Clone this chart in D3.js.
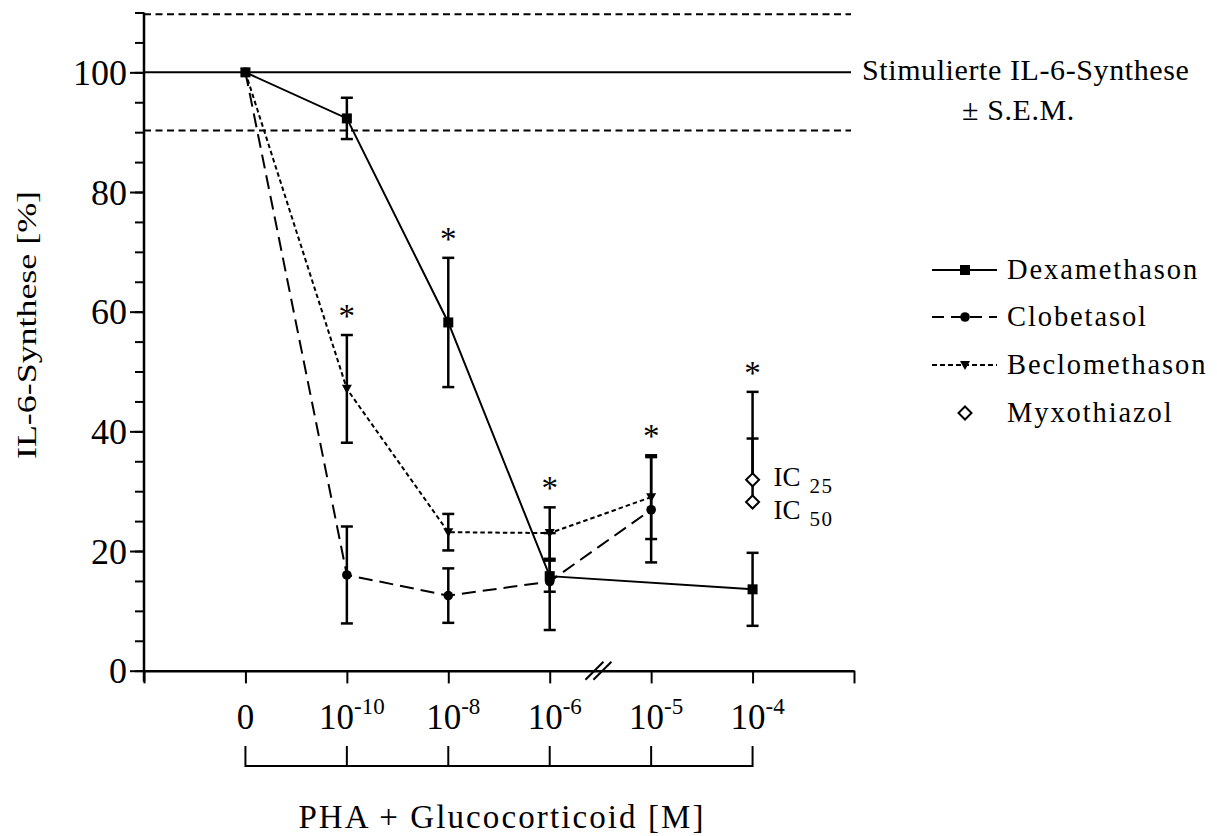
<!DOCTYPE html>
<html>
<head>
<meta charset="utf-8">
<script src="https://cdn.jsdelivr.net/npm/d3@7"></script>
<style>
  html, body { margin: 0; padding: 0; background: #fff; }
  svg { display: block; }
  text { font-family: "Liberation Serif", "Times New Roman", serif; fill: #000; }
</style>
</head>
<body>
<svg id="chart" width="1217" height="836"></svg>
<script>
// ---------- data ----------
const tickBase = ["0", "10", "10", "10", "10", "10"];
const tickExp  = ["", "-10", "-8", "-6", "-5", "-4"];

const dexaIdx  = [0, 1, 2, 3, 5];
const dexaVal  = [100, 92.3, 58.2, 15.8, 13.6];
const dexaErr  = [0, 3.45, 10.8, 2.6, 6.1];

const clobeIdx = [0, 1, 2, 3, 4];
const clobeVal = [100, 16.0, 12.55, 14.9, 26.9];
const clobeErr = [0, 8.1, 4.55, 8.1, 8.8];

const becloIdx = [0, 1, 2, 3, 4];
const becloVal = [100, 47.1, 23.15, 23.0, 29.0];
const becloErr = [0, 9.0, 3.05, 4.3, 7.0];

const myxoIdx    = [5, 5];
const myxoLabel  = ["25", "50"];
const myxoVal    = [31.9, 28.2];
const myxoErrUp  = [6.9, 18.4];

const refMean = 100;
const refSem = 9.7;

// significance stars: concentration index and the series they refer to
const starIdx    = [1, 2, 3, 4, 5];
const starSeries = ["Beclomethason", "Dexamethason", "Beclomethason", "Beclomethason", "Myxothiazol"];

const yMajor = [0, 20, 40, 60, 80, 100];
const yMinor = d3.range(0, 111, 5);

const seriesNames = ["Dexamethason", "Clobetasol", "Beclomethason", "Myxothiazol"];

// ---------- layout ----------
const svg = d3.select("#chart");
const x = d3.scaleLinear().domain([-1, 6]).range([144, 854]);
const y = d3.scaleLinear().domain([0, 110]).range([670.7, 12.5]);
const X0 = x(-1), Y0 = y(0);

// reference band lines
const refLines = [
  {v: refMean + refSem, dash: "7,4.5"},
  {v: refMean, dash: null},
  {v: refMean - refSem, dash: "7,4.5"}
];
svg.append("g").selectAll("line").data(refLines).join("line")
  .attr("x1", X0).attr("x2", 851)
  .attr("y1", d => y(d.v)).attr("y2", d => y(d.v))
  .attr("stroke", "#000").attr("stroke-width", 2)
  .attr("stroke-dasharray", d => d.dash);

svg.append("text").attr("x", 862).attr("y", y(refMean) + 8)
  .attr("font-size", 30).attr("letter-spacing", 0.6)
  .text("Stimulierte IL-6-Synthese");
svg.append("text").attr("x", 962).attr("y", y(refMean) + 48)
  .attr("font-size", 30).attr("letter-spacing", 0.6)
  .text("\u00B1 S.E.M.");

// ---------- axes ----------
const yAxisMinor = d3.axisLeft(y).tickValues(yMinor).tickSize(9).tickFormat("");
const yAxisMajor = d3.axisLeft(y).tickValues(yMajor).tickSize(14).tickPadding(3)
  .tickFormat(d3.format("d"));
const gMinor = svg.append("g").attr("transform", `translate(${X0},0)`).call(yAxisMinor);
const gMajor = svg.append("g").attr("transform", `translate(${X0},0)`).call(yAxisMajor);
[gMinor, gMajor].forEach(g => {
  g.select(".domain").remove();
  g.selectAll(".tick line").attr("stroke", "#000").attr("stroke-width", 2);
});
gMajor.selectAll(".tick text")
  .attr("font-size", 36).attr("fill", "#000").attr("dy", "0.34em");
svg.append("line").attr("x1", X0).attr("x2", X0)
  .attr("y1", y(110)).attr("y2", Y0 + 11)
  .attr("stroke", "#000").attr("stroke-width", 2.5);

const xAxis = d3.axisBottom(x).tickValues(d3.range(-1, 7)).tickSize(12.7).tickSizeOuter(0).tickFormat("");
const gX = svg.append("g").attr("transform", `translate(0,${Y0})`).call(xAxis);
gX.select(".domain").attr("stroke", "#000").attr("stroke-width", 2.5);
gX.selectAll(".tick line").attr("stroke", "#000").attr("stroke-width", 2);

// axis break marks
const brk = x(3.48);
[-4, 4].forEach(o => {
  svg.append("line")
    .attr("x1", brk + o - 9).attr("y1", Y0 + 9)
    .attr("x2", brk + o + 9).attr("y2", Y0 - 9)
    .attr("stroke", "#000").attr("stroke-width", 2);
});

// x tick labels
tickBase.forEach((b, i) => {
  const t = svg.append("text").attr("x", x(i) + (tickExp[i] ? 5 : 0)).attr("y", 729)
    .attr("text-anchor", "middle").attr("font-size", 35);
  t.append("tspan").text(b);
  if (tickExp[i]) {
    t.append("tspan").attr("font-size", 23).attr("dy", -15).text(tickExp[i]);
  }
});

// bracket under labels
svg.append("line").attr("x1", x(0)).attr("x2", x(5))
  .attr("y1", 766).attr("y2", 766).attr("stroke", "#000").attr("stroke-width", 2);
svg.append("g").selectAll("line").data(d3.range(0, 6)).join("line")
  .attr("x1", d => x(d)).attr("x2", d => x(d))
  .attr("y1", 746).attr("y2", 767)
  .attr("stroke", "#000").attr("stroke-width", 2);

// axis titles
svg.append("text").attr("x", (x(0) + x(5)) / 2 + 3).attr("y", 828)
  .attr("text-anchor", "middle").attr("font-size", 33).attr("letter-spacing", 2.1)
  .text("PHA + Glucocorticoid [M]");
svg.append("text").attr("transform", `translate(36,${325}) rotate(-90)`)
  .attr("text-anchor", "middle").attr("font-size", 27)
  .attr("textLength", 268).attr("lengthAdjust", "spacingAndGlyphs")
  .text("IL-6-Synthese [%]");

// ---------- series ----------
const mk = (idx, val, err) => idx.map((c, i) => ({c, v: val[i], e: err[i]}));
const dexa = mk(dexaIdx, dexaVal, dexaErr);
const clobe = mk(clobeIdx, clobeVal, clobeErr);
const beclo = mk(becloIdx, becloVal, becloErr);
const myxo = myxoIdx.map((c, i) => ({c, v: myxoVal[i], e: myxoErrUp[i], lab: myxoLabel[i]}));
const byName = {Dexamethason: dexa, Clobetasol: clobe, Beclomethason: beclo, Myxothiazol: myxo};

const line = d3.line().x(d => x(d.c)).y(d => y(d.v));
const series = [
  {data: beclo, dash: "4.5,3", shape: "tri"},
  {data: clobe, dash: "14,7", shape: "circle"},
  {data: dexa, dash: null, shape: "square"}
];

// error bars
const cap = 6;
function errBar(g, cx, y1, y2, caps) {
  g.append("line").attr("x1", cx).attr("x2", cx).attr("y1", y1).attr("y2", y2)
    .attr("stroke", "#000").attr("stroke-width", 2.5);
  caps.forEach(cy => g.append("line").attr("x1", cx - cap).attr("x2", cx + cap)
    .attr("y1", cy).attr("y2", cy).attr("stroke", "#000").attr("stroke-width", 2.5));
}
const gErr = svg.append("g");
series.forEach(s => s.data.filter(d => d.e > 0).forEach(d => {
  errBar(gErr, x(d.c), y(d.v - d.e), y(d.v + d.e), [y(d.v - d.e), y(d.v + d.e)]);
}));
myxo.forEach(d => errBar(gErr, x(d.c), y(d.v), y(d.v + d.e), [y(d.v + d.e)]));

// lines
series.forEach(s => {
  svg.append("path").datum(s.data).attr("d", line)
    .attr("fill", "none").attr("stroke", "#000").attr("stroke-width", 2)
    .attr("stroke-dasharray", s.dash);
});

// markers
function marker(g, shape, cx, cy) {
  if (shape === "square") {
    g.append("rect").attr("x", cx - 5).attr("y", cy - 5).attr("width", 10).attr("height", 10).attr("fill", "#000");
  } else if (shape === "circle") {
    g.append("circle").attr("cx", cx).attr("cy", cy).attr("r", 4.8).attr("fill", "#000");
  } else if (shape === "tri") {
    g.append("path").attr("d", `M${cx - 5},${cy - 4}L${cx + 5},${cy - 4}L${cx},${cy + 5}Z`).attr("fill", "#000");
  } else if (shape === "diamond") {
    g.append("path").attr("d", `M${cx},${cy - 6.5}L${cx + 6.5},${cy}L${cx},${cy + 6.5}L${cx - 6.5},${cy}Z`)
      .attr("fill", "#fff").attr("stroke", "#000").attr("stroke-width", 2);
  }
}
const gM = svg.append("g");
series.forEach(s => s.data.forEach(d => marker(gM, s.shape, x(d.c), y(d.v))));
myxo.forEach(d => marker(gM, "diamond", x(d.c), y(d.v)));

// IC labels
const icOffset = [6, 17];
myxo.forEach((d, i) => {
  const t = svg.append("text").attr("x", x(d.c) + 21).attr("y", y(d.v) + icOffset[i]).attr("font-size", 27);
  t.append("tspan").text("IC");
  t.append("tspan").attr("font-size", 21).attr("dx", 9).attr("dy", 7).attr("letter-spacing", 1.5).text(d.lab);
});

// significance stars above the upper error bar of the referenced series
starIdx.forEach((c, i) => {
  const pts = byName[starSeries[i]].filter(d => d.c === c);
  const top = d3.max(pts, d => d.v + d.e);
  svg.append("text").attr("x", x(c)).attr("y", y(top) - 8)
    .attr("text-anchor", "middle").attr("font-size", 33).text("*");
});

// ---------- legend ----------
const legY = [270, 317, 365, 413];
const legShapes = ["square", "circle", "tri", "diamond"];
const legDash = [null, "12,7", "5,3", null];
const gL = svg.append("g");
seriesNames.forEach((n, i) => {
  if (i < 3) {
    gL.append("line").attr("x1", 932).attr("x2", 997).attr("y1", legY[i]).attr("y2", legY[i])
      .attr("stroke", "#000").attr("stroke-width", 2).attr("stroke-dasharray", legDash[i]);
  }
  marker(gL, legShapes[i], 965, legY[i]);
  gL.append("text").attr("x", 1007).attr("y", legY[i] + 9)
    .attr("font-size", 28.5).attr("letter-spacing", 1.9).text(n);
});
</script>
</body>
</html>
